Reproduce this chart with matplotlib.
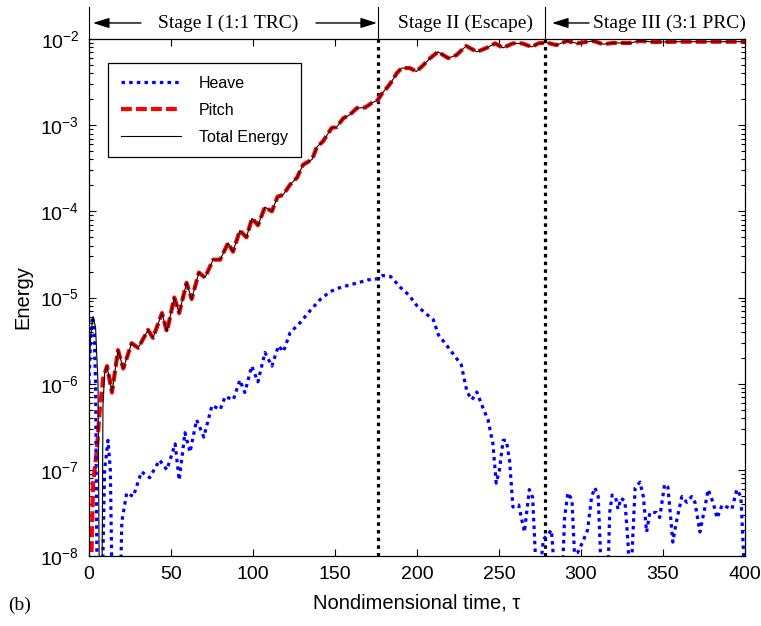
import matplotlib
matplotlib.use("Agg")
import matplotlib.pyplot as plt
import matplotlib.transforms as mtransforms
from matplotlib.ticker import NullFormatter, FixedLocator

plt.rcParams['font.family'] = ['Liberation Sans', 'DejaVu Sans']

# Heave energy (values below 1e-8 fall off the bottom of the plot)
heave_t = [0, 1, 2, 3, 4, 5.2, 7.5, 9.5, 11.6, 13, 14.6, 18.5, 20, 23, 27, 32, 37, 43,
           47.5, 52.5, 55, 58.5, 61.6, 65.6, 70, 75, 80, 83, 88, 92, 95, 99.2, 103,
           107.3, 111.5, 115.5, 118.5, 122.6, 128.7, 135, 141, 147, 153, 159, 165, 170,
           176, 179, 184, 190, 195, 200, 205, 210, 213, 218, 223, 227, 230.5, 233.5,
           236.5, 239.6, 243.3, 246.3, 248.3, 250.3, 252.5, 254.5, 256.5, 258.5, 262,
           265.5, 268.5, 270.5, 273.5, 277, 282, 285, 288, 290, 292, 294.5, 296, 298,
           301, 304, 306.5, 308.5, 310.5, 313, 316, 317.5, 319, 321, 322.6, 324.4,
           326.8, 328.7, 330, 331.5, 333, 336, 338, 340, 342, 346, 348, 351, 353, 356,
           358, 361.5, 364.5, 367.5, 369.5, 372.5, 375.6, 377.5, 380.5, 383, 386, 389,
           392, 395, 397.5, 399, 400]
heave_e = [1.0e-6, 3.2e-6, 6.0e-6, 5.0e-6, 1.0e-6, 1e-9, 1e-9, 1.0e-7, 2.2e-7, 1.0e-7,
           1e-9, 1e-9, 2.5e-8, 5.4e-8, 4.9e-8, 9.5e-8, 8.1e-8, 1.3e-7,
           1.0e-7, 2.0e-7, 7.6e-8, 2.7e-7, 1.6e-7, 3.8e-7, 2.4e-7, 5.6e-7, 5.0e-7, 7.1e-7,
           6.5e-7, 1.1e-6, 7.9e-7, 1.6e-6, 1.05e-6,
           2.3e-6, 1.6e-6, 2.75e-6, 2.35e-6, 3.9e-6, 5.1e-6, 7.1e-6, 9.5e-6, 1.17e-5,
           1.3e-5, 1.4e-5, 1.5e-5, 1.6e-5,
           1.65e-5, 1.8e-5, 1.75e-5, 1.3e-5, 1.07e-5, 8.0e-6, 6.6e-6, 5.5e-6, 3.7e-6,
           2.8e-6, 2.1e-6, 1.65e-6, 8.0e-7, 6.5e-7,
           8.0e-7, 5.6e-7, 3.8e-7, 2.0e-7, 7.0e-8, 1.0e-7, 2.2e-7, 2.2e-7, 1.25e-7, 3.7e-8,
           3.9e-8, 1.9e-8, 5.9e-8, 4.8e-8, 3e-9, 1.55e-8, 2.0e-8, 3e-9, 3e-9, 2.8e-8,
           5.4e-8, 4.5e-8, 1.07e-8, 1.1e-8,
           1.45e-8, 2.0e-8, 4.9e-8, 6.2e-8, 4.9e-8, 3e-9, 3e-9, 3.2e-8, 5.1e-8, 4.9e-8,
           3.5e-8, 4.7e-8,
           4.3e-8, 1.4e-8, 3e-9, 1.55e-8, 6.2e-8, 7.2e-8, 4.9e-8, 1.9e-8, 3.2e-8, 3.2e-8,
           2.8e-8, 6.8e-8, 6.3e-8, 1.45e-8,
           2.4e-8, 4.9e-8, 4.2e-8, 4.9e-8, 4.2e-8, 1.9e-8, 3.7e-8, 5.9e-8, 4.2e-8, 2.75e-8,
           3.9e-8, 3.7e-8,
           3.5e-8, 5.9e-8, 4.9e-8, 1.2e-8, 3e-9]

# Pitch energy
pitch_t = [0, 1.5, 2.5, 4.8, 6.7, 8.7, 11, 14, 17.7, 20.9, 26, 30, 36, 39, 44.5, 47.5,
           52, 55, 59.5, 62.6, 67, 70.7, 75.7, 80, 84.8, 87.8, 92, 96, 99.4, 103, 107.3,
           111.5, 115, 118.3, 122.6, 126.8, 130.5, 136, 139, 142.7, 148, 151, 155, 159,
           163.4, 168.3, 172.6, 176, 179.5, 182, 184.5, 187.6, 190.6, 195.6, 199.6, 203,
           208, 212.8, 219, 224, 230, 236.5, 242.6, 247.6, 252.5, 258.5, 264, 270, 274,
           279, 285, 291.5, 297.5, 307.5, 313.5, 319.5, 330, 336, 345, 360, 380, 400]
pitch_e = [1e-9, 1.0e-8, 7.0e-8, 1.7e-7, 5.4e-7, 1.17e-6, 1.6e-6, 7.9e-7, 2.45e-6,
           1.5e-6, 2.95e-6, 2.6e-6, 4.2e-6, 3.4e-6, 6.6e-6, 4.0e-6,
           1.0e-5, 6.6e-6, 1.48e-5, 9.6e-6, 1.95e-5, 1.7e-5, 2.75e-5, 2.75e-5, 4.3e-5,
           3.4e-5, 6.0e-5, 5.0e-5, 8.3e-5, 6.9e-5, 1.12e-4,
           1.0e-4, 1.48e-4, 1.55e-4, 2.04e-4, 2.45e-4, 3.47e-4, 4.0e-4, 5.6e-4, 6.5e-4,
           9.3e-4, 9.5e-4, 1.2e-3, 1.32e-3,
           1.58e-3, 1.6e-3, 1.82e-3, 1.95e-3, 2.45e-3, 2.75e-3, 3.2e-3, 4.0e-3, 4.6e-3,
           4.6e-3, 4.2e-3, 4.8e-3,
           6.0e-3, 7.1e-3, 6.0e-3, 6.5e-3, 8.3e-3, 7.1e-3, 7.9e-3, 8.9e-3, 7.9e-3, 8.9e-3,
           8.9e-3, 8.1e-3, 8.9e-3,
           9.1e-3, 8.5e-3, 9.5e-3, 8.9e-3, 9.5e-3, 8.7e-3, 9.0e-3, 9.0e-3, 9.5e-3, 9.2e-3,
           9.3e-3, 9.3e-3, 9.3e-3]

# Total energy: initial transient, then it follows the pitch curve
total_t = [0, 1, 2.5, 4, 5.5, 6.5, 7.8, 8.5, 9.5] + pitch_t[6:]
total_e = [1.35e-6, 3.5e-6, 6.0e-6, 4.5e-6, 1.0e-6, 1e-9, 1e-9, 5.4e-7, 1.3e-6] + pitch_e[6:]

stage_bounds = [176, 278]
stage_labels = ['Stage I (1:1 TRC)', 'Stage II (Escape)', 'Stage III (3:1 PRC)']
stage_label_x = [85, 229.6, 354]

fig = plt.figure(figsize=(7.61, 6.26), dpi=100)
ax = fig.add_axes([89 / 761, 1 - 556 / 626, 656 / 761, 517 / 626])

ax.plot(heave_t, heave_e, color='#0000ff', lw=2.3, linestyle=(0, (1.1, 1.3)),
        label='Heave', zorder=3)
ax.plot(pitch_t, pitch_e, color='#ff0000', lw=3, linestyle=(0, (2.6, 1.0)),
        label='Pitch', zorder=2)
ax.plot(total_t, total_e, color='k', lw=0.8, label='Total Energy', zorder=4)

for b in stage_bounds:
    ax.axvline(b, color='k', lw=2.3, linestyle=(0, (1.1, 1.3)), zorder=1)

ax.set_yscale('log')
ax.set_xlim(0, 400)
ax.set_ylim(1e-8, 1e-2)
ax.set_xticks(range(0, 401, 50))
ax.set_yticks([10.0 ** k for k in range(-8, -1)])
ax.set_yticklabels([r'$\mathregular{10^{%d}}$' % k for k in range(-8, -1)])
ax.yaxis.set_minor_formatter(NullFormatter())
ax.tick_params(which='both', direction='in', top=True, right=True, labelsize=14)
ax.tick_params(which='major', length=5, width=0.8, pad=7)
ax.tick_params(which='minor', length=2.8, width=0.8)
for s in ax.spines.values():
    s.set_linewidth(0.9)

ax.set_xlabel('Nondimensional time, \u03c4', fontsize=14.5, labelpad=8)
ax.set_ylabel('Energy', fontsize=14.5, labelpad=6)

leg = ax.legend(loc='upper left', bbox_to_anchor=(0.029, 0.954), borderaxespad=0,
                fontsize=11.5, handlelength=3.8, handletextpad=1.1, labelspacing=0.75,
                borderpad=0.8, fancybox=False, framealpha=1)
leg.get_frame().set_edgecolor('k')
leg.get_frame().set_linewidth(0.9)

# stage banner above the axes
trans = mtransforms.blended_transform_factory(ax.transData, ax.transAxes)
for b in [0] + stage_bounds:
    ax.plot([b, b], [1.0, 1.062], color='k', lw=0.8, transform=trans, clip_on=False)
for lab, xc in zip(stage_labels, stage_label_x):
    ax.text(xc, 1.031, lab, transform=trans, ha='center', va='center',
            family='Liberation Serif', fontsize=14)
arrow_kw = dict(arrowstyle='-|>,head_length=0.7,head_width=0.22', color='k', lw=1,
                shrinkA=0, shrinkB=0, mutation_scale=14)
for x0, x1 in [(31.7, 2.4), (138.4, 175.6), (304.9, 282.3)]:
    ax.annotate('', xy=(x1, 1.031), xytext=(x0, 1.031), xycoords=trans,
                textcoords=trans, arrowprops=arrow_kw, annotation_clip=False)

fig.text(8 / 761, 1 - 605 / 626, '(b)', family='Liberation Serif', fontsize=14,
         va='center', ha='left')

fig.savefig('out.png', dpi=100)
